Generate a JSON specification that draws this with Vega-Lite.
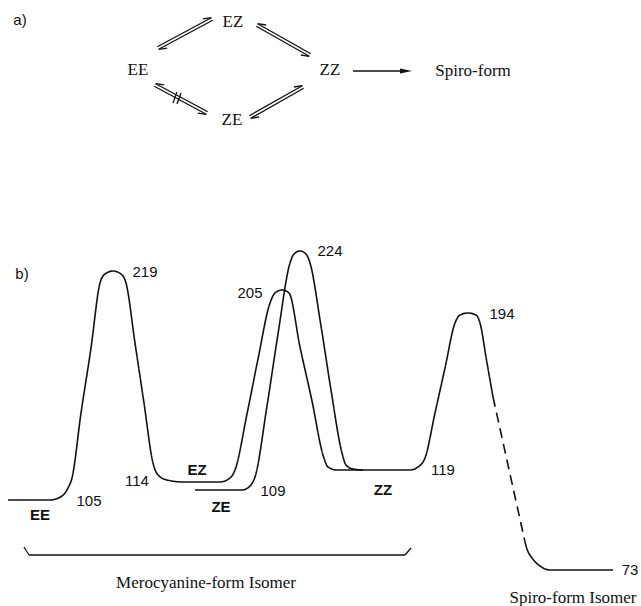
{
  "$schema": "https://vega.github.io/schema/vega-lite/v6.json",
  "width": 641,
  "height": 606,
  "padding": 0,
  "autosize": {"type": "none"},
  "background": "white",
  "config": {"view": {"stroke": null}},
  "datasets": {
    "curves": [
      {"path": "main", "dash": "solid", "o": 1, "x": 8, "y": 500},
      {"path": "main", "dash": "solid", "o": 2, "x": 50, "y": 500},
      {"path": "main", "dash": "solid", "o": 3, "x": 62, "y": 496},
      {"path": "main", "dash": "solid", "o": 4, "x": 68, "y": 488},
      {"path": "main", "dash": "solid", "o": 5, "x": 72, "y": 478},
      {"path": "main", "dash": "solid", "o": 5.3, "x": 81, "y": 413},
      {"path": "main", "dash": "solid", "o": 5.6, "x": 91, "y": 348},
      {"path": "main", "dash": "solid", "o": 6, "x": 100, "y": 283},
      {"path": "main", "dash": "solid", "o": 7, "x": 105, "y": 274},
      {"path": "main", "dash": "solid", "o": 8, "x": 113, "y": 271},
      {"path": "main", "dash": "solid", "o": 9, "x": 121, "y": 274},
      {"path": "main", "dash": "solid", "o": 10, "x": 126, "y": 283},
      {"path": "main", "dash": "solid", "o": 10.3, "x": 135, "y": 343},
      {"path": "main", "dash": "solid", "o": 10.6, "x": 144, "y": 403},
      {"path": "main", "dash": "solid", "o": 11, "x": 153, "y": 463},
      {"path": "main", "dash": "solid", "o": 12, "x": 158, "y": 475},
      {"path": "main", "dash": "solid", "o": 13, "x": 167, "y": 480},
      {"path": "main", "dash": "solid", "o": 14, "x": 183, "y": 482},
      {"path": "main", "dash": "solid", "o": 15, "x": 220, "y": 482},
      {"path": "main", "dash": "solid", "o": 16, "x": 230, "y": 478},
      {"path": "main", "dash": "solid", "o": 17, "x": 235, "y": 470},
      {"path": "main", "dash": "solid", "o": 17.3, "x": 247, "y": 414},
      {"path": "main", "dash": "solid", "o": 17.6, "x": 258, "y": 359},
      {"path": "main", "dash": "solid", "o": 18, "x": 270, "y": 303},
      {"path": "main", "dash": "solid", "o": 19, "x": 275, "y": 293},
      {"path": "main", "dash": "solid", "o": 20, "x": 282, "y": 290},
      {"path": "main", "dash": "solid", "o": 21, "x": 289, "y": 293},
      {"path": "main", "dash": "solid", "o": 21.3, "x": 300, "y": 347},
      {"path": "main", "dash": "solid", "o": 21.6, "x": 312, "y": 401},
      {"path": "main", "dash": "solid", "o": 22, "x": 323, "y": 455},
      {"path": "main", "dash": "solid", "o": 23, "x": 328, "y": 467},
      {"path": "main", "dash": "solid", "o": 24, "x": 337, "y": 470},
      {"path": "main", "dash": "solid", "o": 25, "x": 410, "y": 470},
      {"path": "main", "dash": "solid", "o": 26, "x": 418, "y": 467},
      {"path": "main", "dash": "solid", "o": 27, "x": 425, "y": 458},
      {"path": "main", "dash": "solid", "o": 27.3, "x": 435, "y": 413},
      {"path": "main", "dash": "solid", "o": 27.6, "x": 445, "y": 368},
      {"path": "main", "dash": "solid", "o": 28, "x": 455, "y": 323},
      {"path": "main", "dash": "solid", "o": 29, "x": 460, "y": 315},
      {"path": "main", "dash": "solid", "o": 30, "x": 468, "y": 313},
      {"path": "main", "dash": "solid", "o": 31, "x": 476, "y": 315},
      {"path": "main", "dash": "solid", "o": 32, "x": 480, "y": 323},
      {"path": "main", "dash": "solid", "o": 32.5, "x": 486.5, "y": 360},
      {"path": "main", "dash": "solid", "o": 33, "x": 493, "y": 397},
      {"path": "drop", "dash": "dashed", "o": 1, "x": 493, "y": 397},
      {"path": "drop", "dash": "dashed", "o": 2, "x": 525, "y": 542},
      {"path": "tail", "dash": "solid", "o": 1, "x": 525, "y": 542},
      {"path": "tail", "dash": "solid", "o": 2, "x": 527, "y": 549},
      {"path": "tail", "dash": "solid", "o": 3, "x": 532, "y": 558},
      {"path": "tail", "dash": "solid", "o": 4, "x": 540, "y": 566},
      {"path": "tail", "dash": "solid", "o": 5, "x": 550, "y": 570},
      {"path": "tail", "dash": "solid", "o": 6, "x": 613, "y": 570},
      {"path": "ze", "dash": "solid", "o": 1, "x": 195, "y": 490},
      {"path": "ze", "dash": "solid", "o": 2, "x": 242, "y": 490},
      {"path": "ze", "dash": "solid", "o": 3, "x": 250, "y": 486},
      {"path": "ze", "dash": "solid", "o": 4, "x": 255, "y": 477},
      {"path": "ze", "dash": "solid", "o": 4.3, "x": 267, "y": 406},
      {"path": "ze", "dash": "solid", "o": 4.6, "x": 278, "y": 334},
      {"path": "ze", "dash": "solid", "o": 5, "x": 290, "y": 263},
      {"path": "ze", "dash": "solid", "o": 6, "x": 294, "y": 254},
      {"path": "ze", "dash": "solid", "o": 7, "x": 300, "y": 251},
      {"path": "ze", "dash": "solid", "o": 8, "x": 306, "y": 254},
      {"path": "ze", "dash": "solid", "o": 9, "x": 310, "y": 263},
      {"path": "ze", "dash": "solid", "o": 9.3, "x": 321, "y": 326},
      {"path": "ze", "dash": "solid", "o": 9.6, "x": 331, "y": 390},
      {"path": "ze", "dash": "solid", "o": 10, "x": 342, "y": 453},
      {"path": "ze", "dash": "solid", "o": 11, "x": 346, "y": 465},
      {"path": "ze", "dash": "solid", "o": 12, "x": 353, "y": 469},
      {"path": "ze", "dash": "solid", "o": 13, "x": 363, "y": 470}
    ],
    "segs": [
      {"x": 157.3, "y": 46.7, "x2": 211.3, "y2": 17.7},
      {"x": 211.3, "y": 17.7, "x2": 202.8, "y2": 18.8},
      {"x": 158.7, "y": 49.3, "x2": 212.7, "y2": 20.3},
      {"x": 158.7, "y": 49.3, "x2": 167.2, "y2": 48.2},
      {"x": 257.7, "y": 23.7, "x2": 310.7, "y2": 53.7},
      {"x": 257.7, "y": 23.7, "x2": 266.1, "y2": 25.0},
      {"x": 256.3, "y": 26.3, "x2": 309.3, "y2": 56.3},
      {"x": 309.3, "y": 56.3, "x2": 300.9, "y2": 55.0},
      {"x": 155.7, "y": 83.7, "x2": 207.7, "y2": 111.7},
      {"x": 155.7, "y": 83.7, "x2": 164.2, "y2": 84.9},
      {"x": 154.3, "y": 86.3, "x2": 206.3, "y2": 114.3},
      {"x": 206.3, "y": 114.3, "x2": 197.8, "y2": 113.2},
      {"x": 173, "y": 103, "x2": 177, "y2": 92},
      {"x": 177, "y": 104, "x2": 181, "y2": 93},
      {"x": 249.3, "y": 115.7, "x2": 302.3, "y2": 85.7},
      {"x": 302.3, "y": 85.7, "x2": 293.9, "y2": 87.0},
      {"x": 250.7, "y": 118.3, "x2": 303.7, "y2": 88.3},
      {"x": 250.7, "y": 118.3, "x2": 259.1, "y2": 117.0},
      {"x": 353, "y": 71, "x2": 402, "y2": 71},
      {"x": 24, "y": 547, "x2": 29, "y2": 555},
      {"x": 29, "y": 555, "x2": 405, "y2": 555},
      {"x": 405, "y": 555, "x2": 411, "y2": 548}
    ],
    "heads": [{"x": 406, "y": 71}],
    "nums": [
      {"t": "219", "x": 145, "y": 272},
      {"t": "205", "x": 250, "y": 293},
      {"t": "224", "x": 330, "y": 251},
      {"t": "194", "x": 502, "y": 314},
      {"t": "105", "x": 89, "y": 501},
      {"t": "114", "x": 137, "y": 481},
      {"t": "109", "x": 273, "y": 491},
      {"t": "119", "x": 443, "y": 470},
      {"t": "73", "x": 630, "y": 570},
      {"t": "b)", "x": 22, "y": 274},
      {"t": "a)", "x": 20, "y": 20}
    ],
    "isos": [
      {"t": "EE", "x": 40, "y": 515},
      {"t": "EZ", "x": 197, "y": 470},
      {"t": "ZE", "x": 221, "y": 507},
      {"t": "ZZ", "x": 383, "y": 490}
    ],
    "serif": [
      {"t": "EZ", "x": 233, "y": 22},
      {"t": "EE", "x": 138, "y": 70},
      {"t": "ZZ", "x": 330, "y": 70},
      {"t": "ZE", "x": 232, "y": 120},
      {"t": "Spiro-form", "x": 473, "y": 71},
      {"t": "Merocyanine-form Isomer", "x": 206, "y": 583},
      {"t": "Spiro-form Isomer", "x": 573, "y": 598}
    ]
  },
  "layer": [
    {
      "data": {"name": "curves"},
      "mark": {"type": "line", "interpolate": "monotone", "color": "#111", "strokeWidth": 1.6},
      "encoding": {
        "x": {"field": "x", "type": "quantitative", "scale": {"domain": [0, 641], "nice": false, "zero": false}, "axis": null},
        "y": {"field": "y", "type": "quantitative", "scale": {"domain": [0, 606], "nice": false, "zero": false, "reverse": true}, "axis": null},
        "order": {"field": "o", "type": "quantitative"},
        "detail": {"field": "path"},
        "strokeDash": {"field": "dash", "type": "nominal", "scale": {"domain": ["solid", "dashed"], "range": [[1, 0], [10, 6]]}, "legend": null}
      }
    },
    {
      "data": {"name": "segs"},
      "mark": {"type": "rule", "color": "#111", "strokeWidth": 1.3},
      "encoding": {
        "x": {"field": "x", "type": "quantitative"},
        "y": {"field": "y", "type": "quantitative"},
        "x2": {"field": "x2"},
        "y2": {"field": "y2"}
      }
    },
    {
      "data": {"name": "heads"},
      "mark": {"type": "point", "shape": "M-1,-0.42L1,0L-1,0.42Z", "filled": true, "color": "#111", "opacity": 1, "size": 144},
      "encoding": {
        "x": {"field": "x", "type": "quantitative"},
        "y": {"field": "y", "type": "quantitative"}
      }
    },
    {
      "data": {"name": "nums"},
      "mark": {"type": "text", "font": "Liberation Sans", "fontSize": 15, "align": "center", "baseline": "middle", "color": "#111"},
      "encoding": {
        "x": {"field": "x", "type": "quantitative"},
        "y": {"field": "y", "type": "quantitative"},
        "text": {"field": "t"}
      }
    },
    {
      "data": {"name": "isos"},
      "mark": {"type": "text", "font": "'Liberation Sans Narrow', 'Liberation Sans', sans-serif", "fontSize": 15, "fontWeight": "bold", "align": "center", "baseline": "middle", "color": "#111"},
      "encoding": {
        "x": {"field": "x", "type": "quantitative"},
        "y": {"field": "y", "type": "quantitative"},
        "text": {"field": "t"}
      }
    },
    {
      "data": {"name": "serif"},
      "mark": {"type": "text", "font": "Liberation Serif", "fontSize": 17, "align": "center", "baseline": "middle", "color": "#111"},
      "encoding": {
        "x": {"field": "x", "type": "quantitative"},
        "y": {"field": "y", "type": "quantitative"},
        "text": {"field": "t"}
      }
    }
  ]
}
